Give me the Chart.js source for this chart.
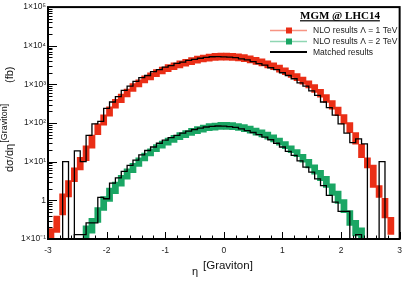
<!DOCTYPE html>
<html><head><meta charset="utf-8">
<script src="https://cdn.jsdelivr.net/npm/chart.js@4/dist/chart.umd.min.js"></script>
<style>html,body{margin:0;padding:0;background:#fff;overflow:hidden}#wrap{width:409px;height:289px}</style>
</head><body><div id="wrap"><canvas id="c" width="409" height="289"></canvas></div>
<script>
// ---- data ----
const binWidth = 0.1;
const etaBins = [-2.95,-2.85,-2.75,-2.65,-2.55,-2.45,-2.35,-2.25,-2.15,-2.05,
  -1.95,-1.85,-1.75,-1.65,-1.55,-1.45,-1.35,-1.25,-1.15,-1.05,
  -0.95,-0.85,-0.75,-0.65,-0.55,-0.45,-0.35,-0.25,-0.15,-0.05,
  0.05,0.15,0.25,0.35,0.45,0.55,0.65,0.75,0.85,0.95,
  1.05,1.15,1.25,1.35,1.45,1.55,1.65,1.75,1.85,1.95,
  2.05,2.15,2.25,2.35,2.45,2.55,2.65,2.75,2.85,2.95];
// NLO, Lambda = 1 TeV (value at bin centre) and half-height of the band in decades
const nloL1 = [0.12,0.24,0.79,2.0,4.6,8.9,16.6,33,69,120,
  200,316,436,600,830,1070,1350,1620,1950,2290,
  2630,2950,3310,3630,3980,4370,4680,4900,5130,5250,
  5250,5130,5010,4790,4470,4070,3720,3310,2950,2570,
  2190,1860,1550,1260,1000,780,590,430,295,200,
  126,76,40,19,9.3,4.2,1.7,0.63,0.22,null];
const errL1 = [0.2,0.22,0.28,0.22,0.19,0.17,0.2,0.18,0.15,0.14,
  0.13,0.12,0.12,0.11,0.11,0.1,0.1,0.1,0.1,0.1,
  0.1,0.1,0.1,0.1,0.1,0.1,0.1,0.1,0.1,0.1,
  0.1,0.1,0.1,0.1,0.1,0.1,0.1,0.1,0.1,0.1,
  0.1,0.1,0.1,0.1,0.1,0.11,0.11,0.11,0.12,0.12,
  0.13,0.14,0.16,0.18,0.14,0.3,0.16,0.26,0.23,0];
// NLO, Lambda = 2 TeV
const nloL2 = [null,null,null,null,null,null,0.14,0.22,0.42,0.83,
  1.4,2.1,3.2,4.8,6.9,9.8,13.2,17.4,22.4,27.5,
  33,39,46,52,59,66,72,78,81,85,
  85,83,79,74,68,60,54,47,40,33,
  27,21,16.6,12.3,8.9,6.3,4.4,3.0,1.9,1.2,
  0.71,0.35,0.19,0.12,null,null,null,null,null,null];
const errL2 = [0,0,0,0,0,0,0.2,0.2,0.2,0.19,
  0.18,0.16,0.15,0.14,0.13,0.12,0.11,0.1,0.1,0.1,
  0.1,0.1,0.1,0.1,0.1,0.1,0.1,0.1,0.1,0.1,
  0.1,0.1,0.1,0.1,0.1,0.1,0.1,0.1,0.1,0.1,
  0.1,0.1,0.1,0.11,0.12,0.13,0.14,0.15,0.16,0.17,
  0.18,0.2,0.21,0.22,0,0,0,0,0,0];
// Matched results: histogram bins whose low edge is etaBins[k]
const matchedL1 = [0,0,0,10,0,19,10,48,95,110,
  240,350,480,700,900,1200,1500,1700,2150,2400,
  2800,3050,3500,3750,4200,4450,4750,5000,5200,5250,
  5150,5050,4900,4600,4300,3900,3450,3150,2700,2400,
  2000,1700,1400,1100,900,680,520,350,250,160,
  95,55,31,39,29,0,0,10,0,0];
const matchedL2 = [0,0,0,0,0,0.13,0.13,0.26,0.26,1.2,
  1.1,2.8,3.8,5.6,8.0,11,15,19.5,24,30,
  36,42,48,55,62,68,74,79,82,84,
  83,81,77,71,64,57,50,43,37,30,
  24,18.5,14.5,10.5,7.2,5.4,3.6,2.4,1.35,0.9,
  0.52,0.52,0,0.13,0,0,0,0,0,0];
const yTickValues = [0.1,1,10,100,1000,10000,100000];
const yTickLabels = ['1×10⁻¹','1','1×10¹','1×10²','1×10³','1×10⁴','1×10⁵'];
const xTickValues = [-3,-2,-1,0,1,2,3];
const xTickLabels = ['-3','-2','-1','0','1','2','3'];
const legendTitle = 'MGM @ LHC14';
const labels = ['NLO results Λ = 1 TeV','NLO results Λ = 2 TeV','Matched results'];

// ---- styles ----
const RED = '#ea2e16', GREEN = '#1aa664';
const RED_LINE = '#f79483', GREEN_LINE = '#8fd6b3';
const SANS = '"Liberation Sans", Arial, sans-serif';

function band(vals, errs){
  return etaBins.map((x,i)=> vals[i]==null ? null :
    {x, y:[vals[i]*Math.pow(10,-errs[i]), vals[i]*Math.pow(10,errs[i])]}).filter(p=>p);
}
function steps(vals){
  const floor = yTickValues[0]/100;
  const pts = etaBins.map((x,i)=>({x, y: vals[i]>0 ? vals[i] : floor}));
  pts.push({x: etaBins[etaBins.length-1]+binWidth, y: pts[pts.length-1].y});
  return pts;
}

const decor = {
  id:'decor',
  afterDraw(chart){
    const ctx = chart.ctx, a = chart.chartArea, xs = chart.scales.x, ys = chart.scales.y;
    ctx.save();
    // inward tick marks
    ctx.strokeStyle = '#000'; ctx.lineWidth = 1;
    ctx.beginPath();
    for (let d=-1; d<5; d++) for (let m=1; m<10; m++){
      const py = Math.round(ys.getPixelForValue(m*Math.pow(10,d)))+0.5;
      const len = m===1 ? 9 : 4.5;
      ctx.moveTo(a.left, py); ctx.lineTo(a.left+len, py);
    }
    for (let k=0; k<=30; k++){
      const px = Math.round(xs.getPixelForValue(-3+0.2*k))+0.5;
      const len = k%5===0 ? 7 : 3.5;
      ctx.moveTo(px, a.bottom); ctx.lineTo(px, a.bottom-len);
    }
    ctx.stroke();
    // frame
    ctx.lineWidth = 2;
    ctx.strokeRect(a.left, a.top, a.right-a.left, a.bottom-a.top);
    // legend
    ctx.fillStyle = '#000';
    ctx.textAlign = 'left'; ctx.textBaseline = 'alphabetic';
    ctx.font = 'bold 11px "Liberation Serif", serif';
    ctx.fillText(legendTitle, 300, 19);
    const tw = ctx.measureText(legendTitle).width;
    ctx.fillRect(300, 20.2, tw, 1.2);
    const rows = [
      {line: RED_LINE, mark: RED, text: labels[0], y: 30.5},
      {line: GREEN_LINE, mark: GREEN, text: labels[1], y: 41.5},
      {line: '#000', mark: null, text: labels[2], y: 52}
    ];
    ctx.font = '8.5px ' + SANS; ctx.textBaseline = 'middle';
    rows.forEach(r=>{
      ctx.strokeStyle = r.line; ctx.lineWidth = r.mark ? 1.6 : 1.8;
      ctx.beginPath(); ctx.moveTo(270, r.y); ctx.lineTo(307, r.y); ctx.stroke();
      if (r.mark){ ctx.fillStyle = r.mark; ctx.fillRect(286, r.y-3, 6, 6); }
      ctx.fillStyle = '#222'; ctx.fillText(r.text, 313, r.y+0.5);
    });
    // x title
    ctx.fillStyle = '#111'; ctx.textBaseline = 'alphabetic';
    ctx.font = '11px ' + SANS; ctx.fillText('η', 192, 275);
    ctx.font = '11.5px ' + SANS; ctx.fillText('[Graviton]', 203, 269);
    // y title
    ctx.translate(13, 172); ctx.rotate(-Math.PI/2);
    ctx.font = '11px ' + SANS; ctx.fillText('dσ/dη', 0, 0);
    const w1 = ctx.measureText('dσ/dη').width;
    ctx.font = '9px ' + SANS; ctx.fillText('[Graviton]', w1+1, -6);
    ctx.font = '11px ' + SANS; ctx.fillText('(fb)', 89, 0);
    ctx.restore();
  }
};

new Chart(document.getElementById('c'), {
  type: 'bar',
  data: { datasets: [
    {type:'line', label: labels[2], data: steps(matchedL1), stepped:'after', borderColor:'#000', borderWidth:1.3, pointRadius:0, fill:false, order:0},
    {type:'line', label: labels[2], data: steps(matchedL2), stepped:'after', borderColor:'#000', borderWidth:1.3, pointRadius:0, fill:false, order:0},
    {type:'bar', label: labels[0], data: band(nloL1, errL1), backgroundColor: RED, borderWidth:0, grouped:false, barPercentage:1.15, categoryPercentage:1, order:1},
    {type:'bar', label: labels[1], data: band(nloL2, errL2), backgroundColor: GREEN, borderWidth:0, grouped:false, barPercentage:1.15, categoryPercentage:1, order:1}
  ]},
  options: {
    responsive:false, animation:false, devicePixelRatio:1, events:[],
    layout:{padding:{top:5, right:7, left:0, bottom:0}},
    plugins:{legend:{display:false}, tooltip:{enabled:false}, title:{display:false}},
    scales:{
      x:{type:'linear', min:-3, max:3, offset:false,
        grid:{display:false, drawTicks:false}, border:{display:false},
        afterBuildTicks(s){ s.ticks = xTickValues.map(v=>({value:v})); },
        afterFit(s){ s.height = 50; },
        ticks:{autoSkip:false, maxRotation:0, minRotation:0, padding:7, color:'#222', font:{family:SANS, size:8.5},
          callback(v){ const i = xTickValues.indexOf(v); return i>=0 ? xTickLabels[i] : ''; }}
      },
      y:{type:'logarithmic', min:0.1, max:100000,
        grid:{display:false, drawTicks:false}, border:{display:false},
        afterBuildTicks(s){ s.ticks = yTickValues.map(v=>({value:v})); },
        afterFit(s){ s.width = 48; },
        ticks:{autoSkip:false, padding:2, color:'#222', font:{family:SANS, size:8.5},
          callback(v){ const i = yTickValues.indexOf(v); return i>=0 ? yTickLabels[i] : ''; }}
      }
    }
  },
  plugins:[decor]
});
</script></body></html>
